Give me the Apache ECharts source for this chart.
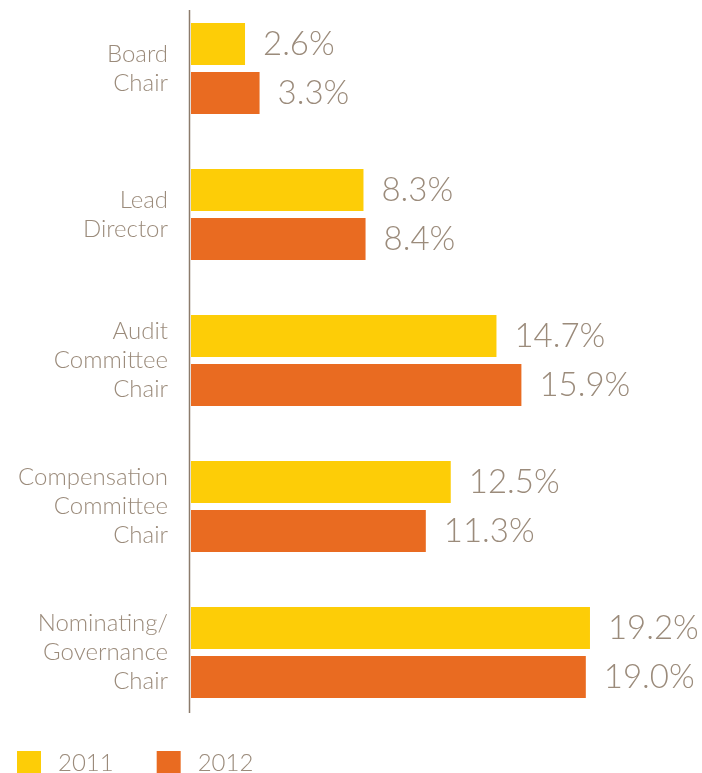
<!DOCTYPE html>
<html>
<head>
<meta charset="utf-8">
<script src="https://cdn.jsdelivr.net/npm/echarts@6/dist/echarts.min.js"></script>
<style>
  html, body { margin: 0; padding: 0; background: #fff; }
  #chart { width: 702px; height: 773px; }
</style>
</head>
<body>
<div id="chart"></div>
<script>
// Data
const categories = [
  'Board\nChair',
  'Lead\nDirector',
  'Audit\nCommittee\nChair',
  'Compensation\nCommittee\nChair',
  'Nominating/\nGovernance\nChair'
];
const values2011 = [2.6, 8.3, 14.7, 12.5, 19.2];
const values2012 = [3.3, 8.4, 15.9, 11.3, 19.0];

const textColor = '#9b8b7b';
const fontFamily = 'Lato, "Open Sans", sans-serif';

const chart = echarts.init(document.getElementById('chart'));

const labelStyle = {
  show: true,
  position: 'right',
  distance: 18,
  color: textColor,
  fontFamily: fontFamily,
  fontWeight: 300,
  fontSize: 33,
  formatter: p => p.value.toFixed(1) + '%'
};

chart.setOption({
  animation: false,
  grid: { left: 191, top: -4.5, height: 730, width: 415.6, outerBoundsMode: 'none' },
  xAxis: {
    type: 'value',
    min: 0,
    max: 20,
    show: false
  },
  yAxis: {
    type: 'category',
    inverse: true,
    data: categories,
    axisLine: { show: false },
    axisTick: { show: false },
    axisLabel: {
      margin: 23,
      color: textColor,
      fontFamily: fontFamily,
      fontWeight: 300,
      fontSize: 24,
      lineHeight: 29,
      padding: [6, 0, 0, 0],
      align: 'right'
    }
  },
  legend: {
    left: 17,
    top: 751,
    padding: 0,
    itemWidth: 24,
    itemHeight: 24,
    itemGap: 43,
    icon: 'rect',
    textStyle: {
      color: textColor,
      fontFamily: fontFamily,
      fontWeight: 300,
      fontSize: 24,
      padding: [0, 0, 0, 12]
    },
    data: ['2011', '2012']
  },
  graphic: [{
    type: 'line',
    shape: { x1: 189.5, y1: 10, x2: 189.5, y2: 713 },
    style: { stroke: '#8c7b6b', lineWidth: 1.5 }
  }],
  series: [
    {
      name: '2011',
      type: 'bar',
      data: values2011,
      barWidth: 42,
      barGap: '16.7%',
      itemStyle: { color: '#fdcd07' },
      label: labelStyle
    },
    {
      name: '2012',
      type: 'bar',
      data: values2012,
      barWidth: 42,
      itemStyle: { color: '#e96b21' },
      label: labelStyle
    }
  ]
});
</script>
</body>
</html>
